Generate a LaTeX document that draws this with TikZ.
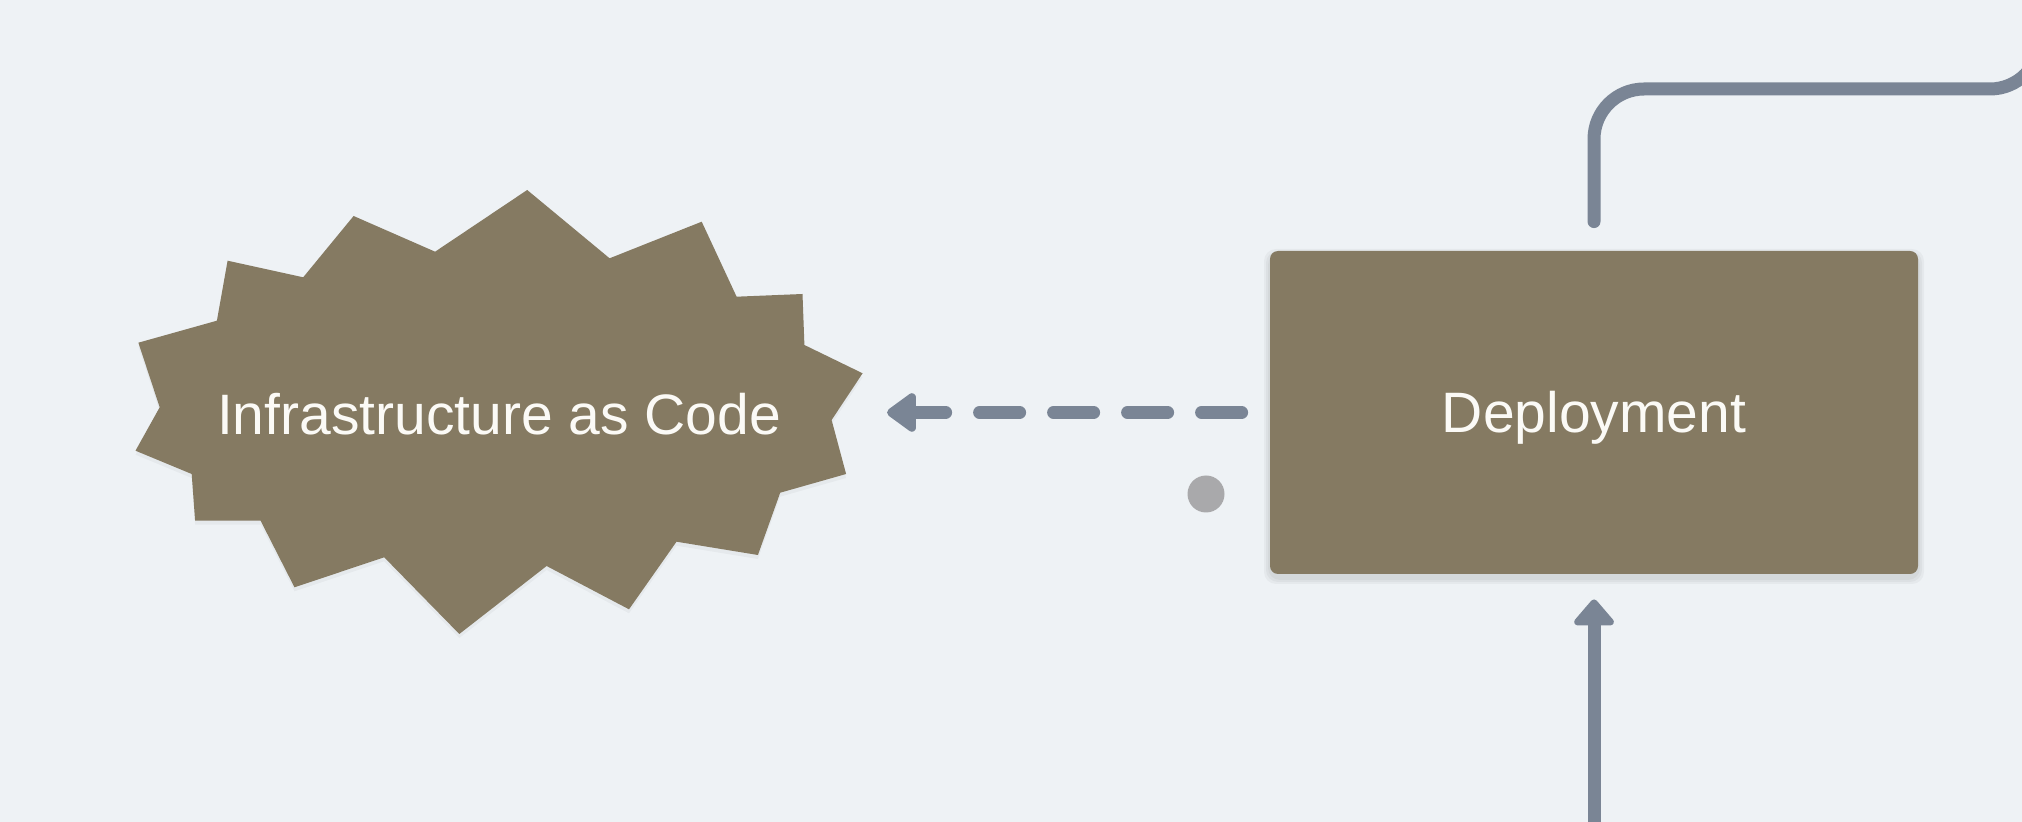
\documentclass[tikz,border=0pt]{standalone}
\usepackage{fontspec}
\setmainfont{Liberation Sans}
\usetikzlibrary{arrows.meta}
\definecolor{bg}{HTML}{EEF2F5}
\definecolor{boxbrown}{HTML}{857A62}
\definecolor{connc}{HTML}{7A8595}
\definecolor{dotc}{HTML}{A9A9AB}
\definecolor{txtc}{HTML}{FBFAF6}
\begin{document}
\begin{tikzpicture}[x=0.5pt,y=-0.5pt,
  conn/.style={draw=connc, line width=6.5pt, line cap=round, line join=round},
  lbl/.style={text=txtc, font=\fontsize{28.5pt}{32pt}\selectfont, text height=20.4pt, text depth=0pt, inner sep=0pt},
  boxnode/.style={lbl, fill=boxbrown, rounded corners=4pt, minimum width=324pt, minimum height=161.5pt},
  shade/.style={fill=black, opacity=0.035}
]
\useasboundingbox[fill=bg] (0,0) rectangle (2022,822);
\clip (0,0) rectangle (2022,822);

% soft shadows
\foreach \d in {2,4,6}{
  \fill[shade, rounded corners=6pt] (1270-\d,251-\d+4) rectangle (1918+\d,574+\d+4);
}
\begin{scope}[yshift=-2pt]
\fill[shade] (527.2,190.0) -- (609.6,258.3) -- (701.7,221.7) -- (736.6,296.7) -- (802.5,294.0) -- (804.4,345.0) -- (862.6,373.3) -- (831.6,420.0) -- (846.1,474.0) -- (780.2,492.7) -- (757.9,555.0) -- (676.5,541.7) -- (629.0,609.3) -- (546.6,566.0) -- (459.3,634.0) -- (384.2,557.3) -- (294.5,587.3) -- (260.6,520.7) -- (195.1,520.7) -- (191.7,474.0) -- (135.5,450.7) -- (159.7,407.3) -- (138.4,342.7) -- (216.9,320.7) -- (227.6,260.7) -- (303.2,277.3) -- (353.6,216.0) -- (435.1,251.7) -- cycle;
\end{scope}

% starburst
\fill[boxbrown] (527.2,190.0) -- (609.6,258.3) -- (701.7,221.7) -- (736.6,296.7) -- (802.5,294.0) -- (804.4,345.0) -- (862.6,373.3) -- (831.6,420.0) -- (846.1,474.0) -- (780.2,492.7) -- (757.9,555.0) -- (676.5,541.7) -- (629.0,609.3) -- (546.6,566.0) -- (459.3,634.0) -- (384.2,557.3) -- (294.5,587.3) -- (260.6,520.7) -- (195.1,520.7) -- (191.7,474.0) -- (135.5,450.7) -- (159.7,407.3) -- (138.4,342.7) -- (216.9,320.7) -- (227.6,260.7) -- (303.2,277.3) -- (353.6,216.0) -- (435.1,251.7) -- cycle;
\node[lbl] (iac) at (499,414) {Infrastructure as Code};

% deployment box
\node[boxnode] (dep) at (1594,412.5) {Deployment};

% helper coordinates
\coordinate (iactip) at (887,412.5);
\coordinate (tr) at (2040,89);
\coordinate (topexit) at (2040,-80);
\coordinate (botstart) at (1594,880);

% connectors
\draw[conn, dash pattern=on 20pt off 17pt, shorten <=14pt,
  -{Triangle[length=16pt,width=22pt,round]}] (dep.west) -- (iactip);
\draw[conn, rounded corners=25pt] ([yshift=14.5pt]dep.north) |- (tr) -- (topexit);
\draw[conn, shorten >=12.5pt, -{Triangle[length=14pt,width=23pt,round]}] (botstart) -- (dep.south);

% dot
\node[circle, fill=dotc, inner sep=0pt, minimum size=18.5pt] (dot) at (1206,494) {};
\end{tikzpicture}
\end{document}
